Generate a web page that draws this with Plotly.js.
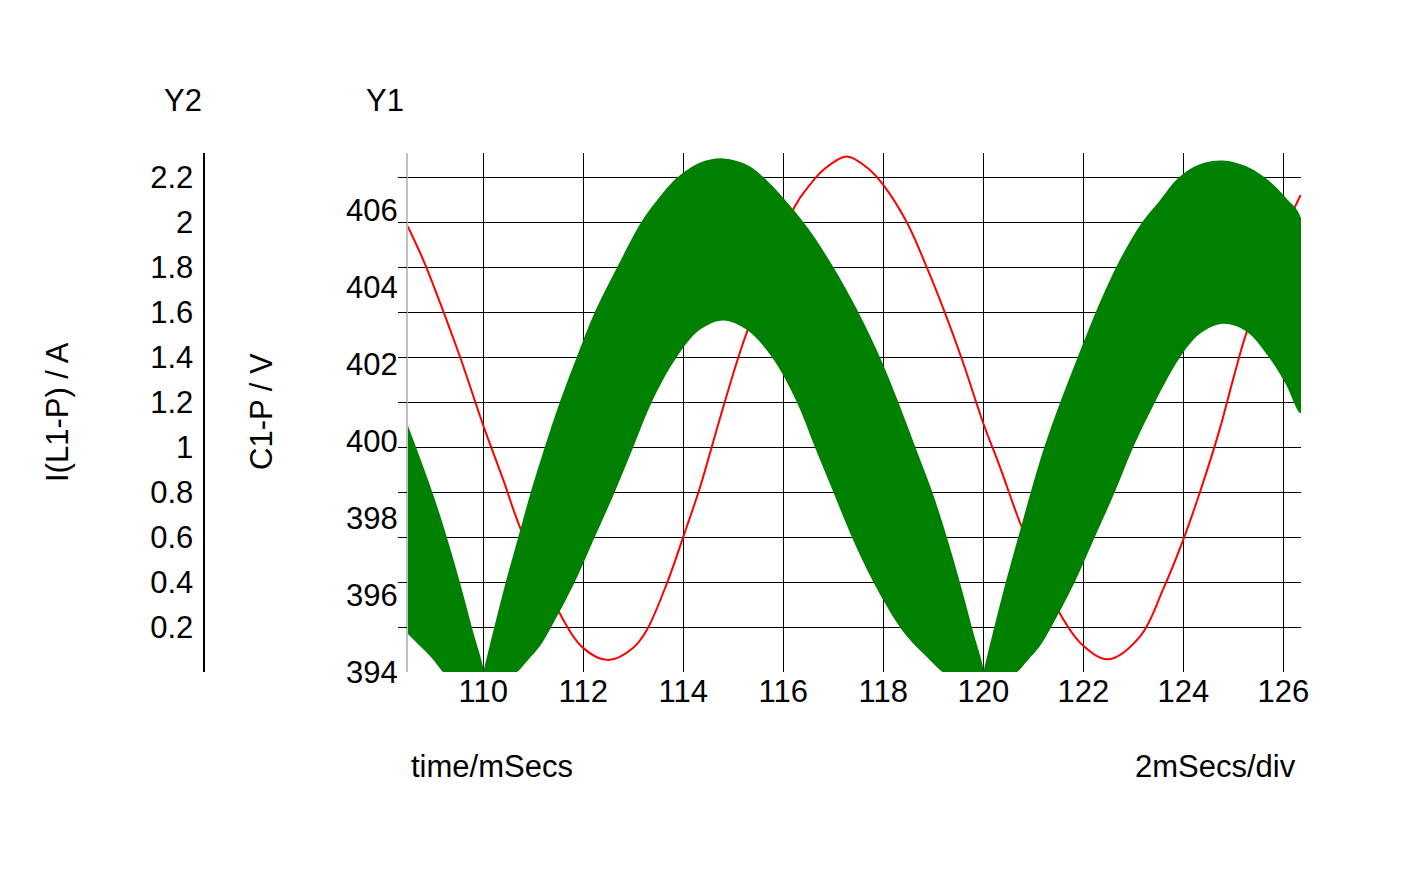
<!DOCTYPE html>
<html>
<head>
<meta charset="utf-8">
<script src="https://cdn.plot.ly/plotly-3.0.1.min.js"></script>
<style>
html,body{margin:0;padding:0;background:#ffffff;}
#chart{width:1428px;height:873px;}
</style>
</head>
<body>
<div id="chart"></div>
<script>
// ---- data ----
// C1-P voltage (Y1), red trace
const timeV = [108.49, 108.80, 109.00, 109.53, 110.00, 110.40, 110.73, 111.53, 112.00, 112.50, 113.00, 113.27, 113.68, 114.01, 114.33, 114.57, 114.83, 115.10, 115.27, 116.23, 116.53, 116.80, 117.27, 117.73, 118.00, 118.47, 118.87, 119.23, 119.60, 120.00, 120.34, 120.77, 121.54, 122.00, 122.50, 123.14, 123.61, 124.00, 124.34, 124.72, 125.00, 125.28, 126.22, 126.35];
const vC1 = [405.57, 404.70, 404.05, 402.20, 400.40, 398.99, 397.77, 395.52, 394.62, 394.31, 394.63, 395.09, 396.33, 397.55, 398.78, 399.85, 401.02, 402.17, 402.82, 406.09, 406.65, 407.04, 407.39, 407.04, 406.65, 405.68, 404.51, 403.34, 402.02, 400.46, 399.30, 397.76, 395.50, 394.68, 394.33, 394.93, 396.19, 397.44, 398.70, 400.27, 401.62, 402.88, 406.04, 406.39];

// I(L1-P) current (Y2): upper envelope of the switching-ripple band (green)
const timeUpper = [108.49, 108.98, 109.27, 109.53, 109.77, 110.00, 110.22, 110.45, 110.70, 110.95, 111.23, 111.53, 111.87, 112.23, 112.68, 113.16, 113.46, 113.89, 114.33, 114.79, 115.26, 115.60, 116.40, 117.00, 117.50, 117.93, 118.30, 118.64, 118.98, 119.27, 119.53, 119.77, 120.00, 120.22, 120.45, 120.70, 120.95, 121.22, 121.54, 121.89, 122.25, 122.72, 123.18, 123.52, 123.92, 124.32, 124.78, 125.25, 125.72, 126.05, 126.35];
const iUpper = [1.097, 0.800, 0.600, 0.400, 0.200, 0.000, 0.200, 0.400, 0.600, 0.800, 1.000, 1.200, 1.400, 1.600, 1.800, 2.000, 2.093, 2.200, 2.264, 2.283, 2.256, 2.200, 2.000, 1.800, 1.600, 1.400, 1.200, 1.000, 0.800, 0.600, 0.400, 0.200, 0.000, 0.200, 0.400, 0.600, 0.800, 1.000, 1.200, 1.400, 1.600, 1.827, 2.000, 2.093, 2.200, 2.256, 2.274, 2.249, 2.182, 2.108, 2.019];
// lower envelope (zero where the current stays at the bottom)
const timeLower = [108.49, 108.74, 109.00, 109.20, 109.23, 109.96, 110.04, 110.64, 110.67, 110.90, 111.13, 111.36, 111.83, 112.23, 112.63, 113.00, 113.37, 113.87, 114.33, 114.80, 115.27, 115.77, 116.27, 116.63, 117.00, 117.37, 117.80, 118.33, 118.59, 118.86, 119.19, 119.22, 119.96, 120.04, 120.64, 120.67, 120.90, 121.13, 121.36, 121.83, 122.23, 122.63, 123.00, 123.42, 123.92, 124.32, 124.78, 125.25, 125.72, 126.05, 126.35];
const iLower = [0.170, 0.114, 0.055, 0.000, 0.000, 0.000, 0.000, 0.000, 0.000, 0.055, 0.114, 0.200, 0.400, 0.600, 0.800, 1.000, 1.200, 1.400, 1.521, 1.563, 1.521, 1.400, 1.200, 1.000, 0.800, 0.600, 0.400, 0.200, 0.129, 0.069, 0.000, 0.000, 0.000, 0.000, 0.000, 0.000, 0.055, 0.114, 0.200, 0.400, 0.600, 0.800, 1.000, 1.194, 1.394, 1.501, 1.548, 1.516, 1.397, 1.279, 1.151];

// tick labels
const xTicks = [110, 112, 114, 116, 118, 120, 122, 124, 126];
const y1Ticks = [394, 396, 398, 400, 402, 404, 406];
const y2Ticks = [0.2, 0.4, 0.6, 0.8, 1, 1.2, 1.4, 1.6, 1.8, 2, 2.2];
const y2TickText = ['0.2', '0.4', '0.6', '0.8', '1', '1.2', '1.4', '1.6', '1.8', '2', '2.2'];

// ---- layout geometry ----
const W = 1428, H = 873;
const M = {l: 0, r: 127, t: 153, b: 201};
const PW = W - M.l - M.r, PH = H - M.t - M.b;
const px = v => (v - M.l) / PW;
const py = v => (H - M.b - v) / PH;

const FONT = 'Liberation Sans, Arial, Helvetica, sans-serif';
const FS = 31;
const Y2RANGE = [0, 2.307];

// band: one closed piece between consecutive points where the upper envelope touches zero
const tips = timeUpper.filter((t, i) => iUpper[i] === 0);
const bounds = [-Infinity].concat(tips, [Infinity]);
const bandX = [], bandY = [];
for (let k = 0; k < bounds.length - 1; k++) {
  const a = bounds[k], b = bounds[k + 1];
  const up = timeUpper.map((t, i) => [t, iUpper[i]]).filter(p => p[0] >= a && p[0] <= b);
  const lo = timeLower.map((t, i) => [t, iLower[i]]).filter(p => p[0] > a && p[0] < b).reverse();
  if (k > 0) { bandX.push(null); bandY.push(null); }
  up.concat(lo).forEach(p => { bandX.push(p[0]); bandY.push(p[1]); });
}

const traces = [
  {
    x: timeV, y: vC1, xaxis: 'x', yaxis: 'y', type: 'scatter', mode: 'lines',
    line: {color: '#ff0000', width: 2, shape: 'spline', smoothing: 1},
    hoverinfo: 'skip', showlegend: false
  },
  {
    // keeps the free Y2 scale on the far left drawn (nothing visible)
    x: [xTicks[0]], y: [y2Ticks[0]], xaxis: 'x', yaxis: 'y2', type: 'scatter', mode: 'markers',
    marker: {opacity: 0, size: 1}, hoverinfo: 'skip', showlegend: false
  },
  {
    x: bandX, y: bandY, xaxis: 'x', yaxis: 'y3', type: 'scatter', mode: 'lines',
    fill: 'toself', fillcolor: '#008000', connectgaps: false,
    line: {color: '#008000', width: 0, shape: 'spline', smoothing: 1},
    hoverinfo: 'skip', showlegend: false
  }
];

const layout = {
  width: W, height: H,
  margin: M,
  paper_bgcolor: '#ffffff', plot_bgcolor: '#ffffff',
  font: {family: FONT, size: FS, color: '#000000'},
  showlegend: false,
  xaxis: {
    domain: [px(408), 1],
    range: [108.494, 126.354],
    tickmode: 'array', tickvals: xTicks,
    showgrid: true, gridcolor: '#000000', gridwidth: 1,
    zeroline: false, showline: false, ticks: '',
    tickfont: {family: FONT, size: FS, color: '#000000'},
    ticklabelstandoff: -2,
    automargin: false, fixedrange: true
  },
  yaxis: {
    range: [394, 407.48],
    tickmode: 'array', tickvals: y1Ticks,
    showgrid: false, zeroline: false,
    showline: true, linecolor: '#c0c0c0', linewidth: 2,
    ticks: '', ticklabelstandoff: 2,
    tickfont: {family: FONT, size: FS, color: '#000000'},
    automargin: false, fixedrange: true
  },
  yaxis2: {
    overlaying: 'y', anchor: 'free', side: 'left', position: px(203.5),
    range: Y2RANGE,
    tickmode: 'array', tickvals: y2Ticks, ticktext: y2TickText,
    showgrid: false, zeroline: false,
    showline: true, linecolor: '#000000', linewidth: 2,
    ticks: '', ticklabelstandoff: 3,
    tickfont: {family: FONT, size: FS, color: '#000000'},
    automargin: false, fixedrange: true
  },
  yaxis3: {
    overlaying: 'y', anchor: 'x', side: 'left',
    range: Y2RANGE,
    tickmode: 'array', tickvals: y2Ticks,
    showgrid: true, gridcolor: '#000000', gridwidth: 1,
    zeroline: false, showline: false, showticklabels: false,
    ticks: 'outside', ticklen: 9, tickcolor: '#000000', tickwidth: 1,
    automargin: false, fixedrange: true
  },
  annotations: [
    {text: 'Y2', x: px(183), y: py(101), xref: 'paper', yref: 'paper', xanchor: 'center', yanchor: 'middle', showarrow: false, font: {family: FONT, size: FS, color: '#000'}},
    {text: 'Y1', x: px(385), y: py(101), xref: 'paper', yref: 'paper', xanchor: 'center', yanchor: 'middle', showarrow: false, font: {family: FONT, size: FS, color: '#000'}},
    {text: 'I(L1-P) / A', x: px(57), y: py(412), xref: 'paper', yref: 'paper', xanchor: 'center', yanchor: 'middle', textangle: -90, showarrow: false, font: {family: FONT, size: FS, color: '#000'}},
    {text: 'C1-P / V', x: px(261), y: py(412), xref: 'paper', yref: 'paper', xanchor: 'center', yanchor: 'middle', textangle: -90, showarrow: false, font: {family: FONT, size: FS, color: '#000'}},
    {text: 'time/mSecs', x: px(409), y: py(766), xref: 'paper', yref: 'paper', xanchor: 'left', yanchor: 'middle', showarrow: false, font: {family: FONT, size: FS, color: '#000'}},
    {text: '2mSecs/div', x: px(1298), y: py(766), xref: 'paper', yref: 'paper', xanchor: 'right', yanchor: 'middle', showarrow: false, font: {family: FONT, size: FS, color: '#000'}}
  ]
};

Plotly.newPlot('chart', traces, layout, {staticPlot: true, displayModeBar: false});
</script>
</body>
</html>
